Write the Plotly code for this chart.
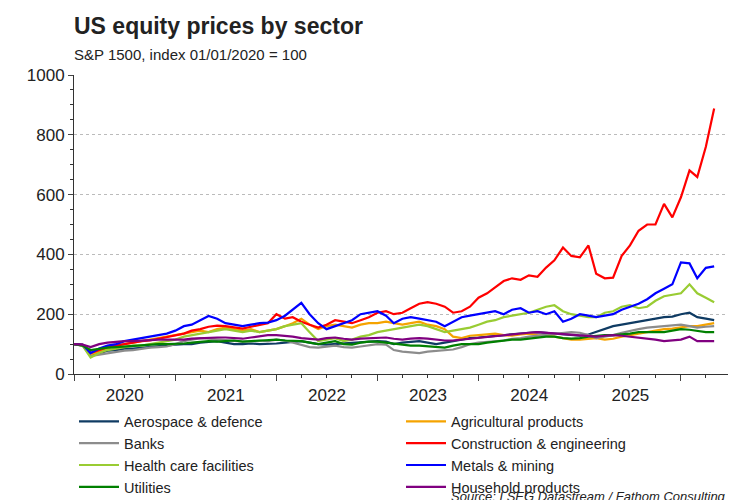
import pandas as pd
import plotly.graph_objects as go

dates = pd.date_range('2020-01-01', periods=77, freq='MS')

aerospace = [100,98,60,70,78,80,85,85,88,90,92,95,
             98,100,100,105,108,110,105,100,100,102,100,100,
             102,105,108,110,105,100,98,100,102,105,108,110,
             110,108,100,105,108,110,105,100,105,110,115,120,
             122,125,128,130,132,135,138,140,138,135,132,130,
             128,132,140,150,160,165,170,175,180,185,190,192,
             200,205,190,185,180]
agri = [100,97,65,75,85,95,100,105,110,115,120,125,
        130,135,140,145,140,150,155,150,145,150,140,145,
        150,160,170,185,165,150,160,165,160,155,165,170,
        170,175,170,165,170,175,165,160,150,125,120,128,
        130,132,135,130,128,132,135,130,128,125,120,115,
        115,118,120,115,118,125,130,135,140,145,150,152,
        155,160,160,165,170]
banks = [100,95,60,65,70,75,78,80,85,88,90,92,
         100,110,115,120,118,115,112,110,108,110,112,110,
         115,112,105,95,90,88,92,95,90,88,92,95,
         100,98,80,75,72,70,75,78,80,82,90,100,
         105,108,110,112,118,120,125,128,130,132,135,140,
         138,130,120,125,130,138,145,150,155,158,160,162,
         165,160,155,158,160]
construction = [100,98,70,80,90,95,100,105,110,112,118,122,
                128,135,145,150,158,162,160,155,152,158,165,170,
                200,185,190,175,165,155,165,180,175,170,180,190,
                205,210,200,205,220,235,240,235,225,205,210,225,
                255,270,290,311,320,315,330,325,356,380,423,395,
                390,430,335,320,322,395,430,479,500,500,569,524,
                591,681,659,760,888]
health = [100,95,55,70,80,85,90,95,95,100,105,110,
          115,125,130,135,140,145,150,145,140,145,140,145,
          150,160,165,170,140,110,115,120,110,115,125,130,
          140,145,150,155,160,165,160,150,140,145,150,155,
          165,175,180,190,195,200,205,215,225,230,210,200,
          195,190,190,205,210,225,230,220,225,245,260,265,
          270,300,270,255,240]
metals = [100,98,70,85,95,100,110,115,120,125,130,135,
          145,160,165,180,194,185,170,165,160,165,170,172,
          180,195,215,238,200,170,150,160,170,180,200,205,
          210,195,170,185,190,185,180,175,160,175,190,195,
          200,205,210,200,215,220,205,210,200,210,175,185,
          200,195,190,195,200,215,225,235,250,270,285,300,
          373,370,320,355,360]
utilities = [100,95,80,85,88,90,92,95,95,98,100,100,
             100,102,105,108,110,108,110,112,108,110,112,115,
             115,112,110,110,105,100,105,110,100,98,105,108,
             108,105,100,98,95,95,92,90,88,95,100,100,
             100,105,108,112,115,115,118,120,125,125,120,118,
             120,125,128,130,130,132,135,140,140,138,140,145,
             150,148,145,140,140]
household = [100,98,90,100,105,108,110,110,112,112,115,115,
             115,115,118,120,120,122,122,120,118,122,125,130,
             130,128,125,120,118,115,120,122,118,115,118,120,
             120,122,118,115,118,120,118,115,112,112,115,118,
             120,125,128,130,132,135,138,140,138,135,132,130,
             130,128,125,128,130,128,125,122,120,115,110,112,
             115,125,110,110,110]

series = [
    ('Aerospace & defence', aerospace, '#0f3b63'),
    ('Agricultural products', agri, '#f5a300'),
    ('Banks', banks, '#8c8c8c'),
    ('Construction & engineering', construction, '#ff0000'),
    ('Health care facilities', health, '#99cc33'),
    ('Metals & mining', metals, '#0000ff'),
    ('Utilities', utilities, '#008000'),
    ('Household products', household, '#800080'),
]

fig = go.Figure()
for name, vals, col in series:
    fig.add_trace(go.Scatter(x=dates, y=vals, name=name, mode='lines',
                             line=dict(color=col, width=2.2)))

fig.update_layout(
    width=750, height=500,
    plot_bgcolor='white', paper_bgcolor='white',
    font=dict(family='Liberation Sans, Arial', size=15, color='#222'),
    margin=dict(l=66, r=30, t=67, b=134, autoexpand=False),
    showlegend=True,
    legend=dict(orientation='h', x=0.0, y=-0.105, xanchor='left', yanchor='top',
                entrywidth=0.5, entrywidthmode='fraction',
                font=dict(size=14.5), tracegroupgap=0, itemwidth=40),
)
fig.add_annotation(text='<b>US equity prices by sector</b>', xref='paper', yref='paper',
                   x=-0.003, y=1.164, xanchor='left', yanchor='middle', showarrow=False,
                   font=dict(size=23, color='#222'))
fig.add_annotation(text='S&P 1500, index 01/01/2020 = 100', xref='paper', yref='paper',
                   x=-0.003, y=1.067, xanchor='left', yanchor='middle', showarrow=False,
                   font=dict(size=15, color='#222'))
fig.add_annotation(text='<i>Source: LSEG Datastream / Fathom Consulting</i>', xref='paper', yref='paper',
                   x=1.0, y=-0.41, xanchor='right', yanchor='middle', showarrow=False,
                   font=dict(size=13, color='#222'))

fig.update_yaxes(range=[0, 1000], dtick=200, showgrid=True, gridcolor='#bbb', griddash='dot',
                 showline=True, linecolor='#333', ticks='outside', ticklen=5,
                 minor=dict(dtick=50, ticks='outside', ticklen=3, tickcolor='#333'),
                 zeroline=False, tickfont=dict(size=17))
fig.update_xaxes(range=['2020-01-01', '2026-06-20'], dtick='M12', tick0='2020-01-01',
                 ticklabelmode='period', tickformat='%Y', showgrid=False,
                 showline=True, linecolor='#333', ticks='outside', ticklen=6,
                 minor=dict(dtick='M3', ticks='outside', ticklen=3, tickcolor='#333'),
                 tickfont=dict(size=17))

fig.write_html('out.html')
